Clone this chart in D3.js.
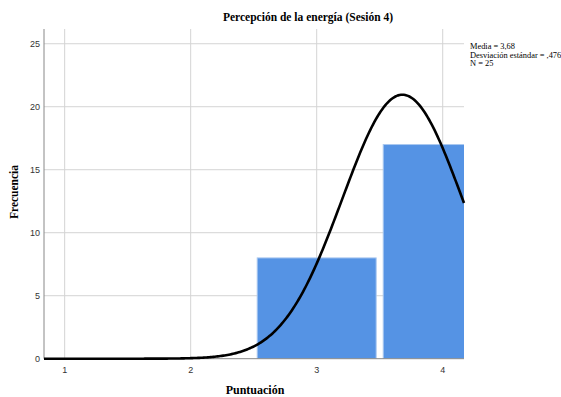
<!DOCTYPE html>
<html>
<head>
<meta charset="utf-8">
<script src="https://cdn.jsdelivr.net/npm/d3@7"></script>
<style>
  body { margin: 0; background: #fff; }
  svg { display: block; }
</style>
</head>
<body>
<svg class="hist" width="561" height="397"></svg>
<script>
// histogram bins (score) and their counts
const bins = [1, 2, 3, 4];
const counts = [0, 0, 8, 17];
const xTicks = [1, 2, 3, 4];
const yTicks = [0, 5, 10, 15, 20, 25];
const stats = ['Media = 3,68', 'Desviación estándar = ,476', 'N = 25'];
const mean = 3.68;
const sd = 0.476;
const n = 25;

const svg = d3.select('.hist');

const xScale = d3.scaleLinear()
    .domain([0.836, 4.169])
    .range([44, 464]);

const yScale = d3.scaleLinear()
    .domain([0, 26.17])
    .range([358.7, 29]);

const plotLeft = xScale.range()[0];
const plotRight = xScale.range()[1];
const plotTop = yScale.range()[1];
const plotBottom = yScale(0);

// grid
const g = svg.append('g');
g.selectAll('.hgrid')
    .data(yTicks.slice(1))
    .join('line')
    .attr('x1', plotLeft)
    .attr('x2', plotRight)
    .attr('y1', d => yScale(d))
    .attr('y2', d => yScale(d))
    .attr('stroke', '#d4d4d4')
    .attr('stroke-width', 1);

g.selectAll('.vgrid')
    .data(xTicks)
    .join('line')
    .attr('x1', d => xScale(d))
    .attr('x2', d => xScale(d))
    .attr('y1', plotTop)
    .attr('y2', plotBottom)
    .attr('stroke', '#d4d4d4')
    .attr('stroke-width', 1);

// bars, clipped to the plot area
svg.append('clipPath')
    .attr('id', 'plot')
    .append('rect')
    .attr('x', plotLeft)
    .attr('y', plotTop)
    .attr('width', plotRight - plotLeft)
    .attr('height', plotBottom - plotTop);

const inset = 0.028;
svg.append('g')
    .attr('clip-path', 'url(#plot)')
    .selectAll('rect')
    .data(bins.map((b, i) => ({ b, c: counts[i] })).filter(d => d.c > 0))
    .join('rect')
    .attr('x', d => xScale(d.b - 0.5 + inset))
    .attr('width', d => xScale(d.b + 0.5 - inset) - xScale(d.b - 0.5 + inset))
    .attr('y', d => yScale(d.c))
    .attr('height', d => plotBottom - yScale(d.c))
    .attr('fill', '#5593e4')
    .attr('stroke', '#a9c8f0')
    .attr('stroke-width', 1);

// axes lines
svg.append('line')
    .attr('x1', plotLeft).attr('x2', plotLeft)
    .attr('y1', plotTop).attr('y2', plotBottom)
    .attr('stroke', '#888').attr('stroke-width', 1);

svg.append('line')
    .attr('x1', plotLeft).attr('x2', plotRight)
    .attr('y1', plotBottom).attr('y2', plotBottom)
    .attr('stroke', '#888').attr('stroke-width', 1);

// normal curve
const curveData = d3.range(0, 301).map(i => {
    const x = xScale.domain()[0] + (xScale.domain()[1] - xScale.domain()[0]) * i / 300;
    const y = n / (sd * Math.sqrt(2 * Math.PI)) * Math.exp(-0.5 * Math.pow((x - mean) / sd, 2));
    return [x, y];
});

svg.append('path')
    .datum(curveData)
    .attr('fill', 'none')
    .attr('stroke', '#000')
    .attr('stroke-width', 2.6)
    .attr('d', d3.line().x(d => xScale(d[0])).y(d => yScale(d[1])));

// tick labels
svg.append('g')
    .selectAll('text')
    .data(yTicks)
    .join('text')
    .attr('x', 40)
    .attr('y', d => yScale(d) + 3.5)
    .attr('text-anchor', 'end')
    .style('font-family', 'Arial, "Liberation Sans", sans-serif')
    .style('font-size', '9px')
    .attr('fill', '#333')
    .text(d => d);

svg.append('g')
    .selectAll('text')
    .data(xTicks)
    .join('text')
    .attr('x', d => xScale(d))
    .attr('y', 373)
    .attr('text-anchor', 'middle')
    .style('font-family', 'Arial, "Liberation Sans", sans-serif')
    .style('font-size', '9px')
    .attr('fill', '#333')
    .text(d => d);

// titles
svg.append('text')
    .attr('x', 308)
    .attr('y', 21)
    .attr('text-anchor', 'middle')
    .style('font-family', '"Times New Roman", "Liberation Serif", serif')
    .style('font-weight', 'bold')
    .style('font-size', '11.5px')
    .text('Percepción de la energía (Sesión 4)');

svg.append('text')
    .attr('x', 255)
    .attr('y', 394)
    .attr('text-anchor', 'middle')
    .style('font-family', '"Times New Roman", "Liberation Serif", serif')
    .style('font-weight', 'bold')
    .style('font-size', '12px')
    .text('Puntuación');

svg.append('text')
    .attr('transform', 'translate(18, 192) rotate(-90)')
    .attr('text-anchor', 'middle')
    .style('font-family', '"Times New Roman", "Liberation Serif", serif')
    .style('font-weight', 'bold')
    .style('font-size', '11.5px')
    .text('Frecuencia');

// stats legend
svg.append('g')
    .selectAll('text')
    .data(stats)
    .join('text')
    .attr('x', 470)
    .attr('y', (d, i) => 49 + i * 8.5)
    .style('font-family', '"Times New Roman", "Liberation Serif", serif')
    .style('font-size', '8.4px')
    .text(d => d);
</script>
</body>
</html>
